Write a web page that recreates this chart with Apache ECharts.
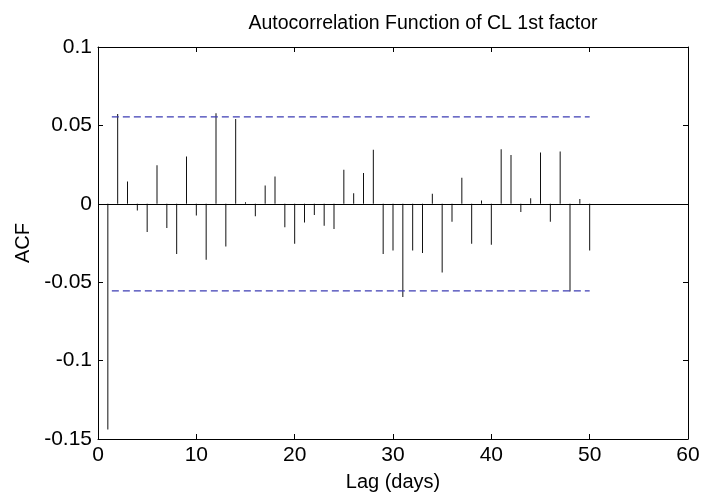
<!DOCTYPE html>
<html>
<head>
<meta charset="utf-8">
<script src="https://cdn.jsdelivr.net/npm/echarts@6/dist/echarts.min.js"></script>
<style>html,body{margin:0;padding:0;background:#fff}#c{width:709px;height:497px}</style>
</head>
<body>
<div id="c"></div>
<script>
var lags = [1,2,3,4,5,6,7,8,9,10,11,12,13,14,15,16,17,18,19,20,21,22,23,24,25,26,27,28,29,30,31,32,33,34,35,36,37,38,39,40,41,42,43,44,45,46,47,48,49,50];
var acf = [-0.144,0.0573,0.0142,-0.0043,-0.018,0.0246,-0.0155,-0.032,0.0301,-0.0074,
           -0.0357,0.0578,-0.0272,0.0541,0.001,-0.008,0.0117,0.0174,-0.0149,-0.0255,
           -0.012,-0.0072,-0.014,-0.016,0.0217,0.0068,0.0196,0.0344,-0.032,-0.0298,
           -0.0594,-0.0298,-0.0314,0.0064,-0.0438,-0.0115,0.0166,-0.0255,0.0021,-0.0261,
           0.0348,0.0312,-0.0053,0.0036,0.0327,-0.0115,0.0333,-0.0559,0.003,-0.0298];
var boundLags = [1, 50];
var bound = 0.0555;
var xTicks = [0,10,20,30,40,50,60];
var yTicks = [-0.15,-0.1,-0.05,0,0.05,0.1];

var chart = echarts.init(document.getElementById('c'));
var font = 'Liberation Sans, Arial, sans-serif';
var axisCommon = {
  axisLine:{show:true,onZero:false,lineStyle:{color:'#000',width:1}},
  axisTick:{show:true,inside:true,length:5,lineStyle:{color:'#000'}},
  splitLine:{show:false}
};
chart.setOption({
  animation:false,
  backgroundColor:'#fff',
  title:{text:'Autocorrelation Function of CL 1st factor',left:418,top:9,textAlign:'center',
    textStyle:{fontFamily:font,fontSize:19.5,fontWeight:'normal',color:'#000'}},
  grid:{left:98,right:21,top:47,bottom:56},
  xAxis:[
    Object.assign({type:'value',min:0,max:60,interval:10,position:'bottom',
      name:'Lag (days)',nameLocation:'middle',nameGap:33,
      nameTextStyle:{fontFamily:font,fontSize:20,color:'#000'},
      axisLabel:{fontFamily:font,fontSize:21,color:'#000',margin:6}},axisCommon),
    Object.assign({type:'value',min:0,max:60,interval:10,position:'top',
      axisLabel:{show:false}},axisCommon)
  ],
  yAxis:[
    Object.assign({type:'value',min:-0.15,max:0.1,interval:0.05,position:'left',
      name:'ACF',nameLocation:'middle',nameGap:51,
      nameTextStyle:{fontFamily:font,fontSize:20,color:'#000'},
      axisLabel:{fontFamily:font,fontSize:21,color:'#000',margin:6,
        formatter:function(v){var r=Math.round(v*100)/100;return String(r);}}},axisCommon),
    Object.assign({type:'value',min:-0.15,max:0.1,interval:0.05,position:'right',
      axisLabel:{show:false}},axisCommon)
  ],
  series:[
    {type:'bar',xAxisIndex:0,yAxisIndex:0,barWidth:1,
      data:lags.map(function(l,i){return [l,acf[i]];}),
      itemStyle:{color:'#111'},
      markLine:{silent:true,symbol:'none',label:{show:false},
        lineStyle:{color:'#000',width:1,type:'solid'},
        data:[[{coord:[0,0]},{coord:[60,0]}]]}},
    {type:'line',xAxisIndex:0,yAxisIndex:0,symbol:'none',
      data:boundLags.map(function(l){return [l,bound];}),
      lineStyle:{color:'#3c3cb4',width:1.3,type:[7,4],dashOffset:-4}},
    {type:'line',xAxisIndex:0,yAxisIndex:0,symbol:'none',
      data:boundLags.map(function(l){return [l,-bound];}),
      lineStyle:{color:'#3c3cb4',width:1.3,type:[7,4],dashOffset:-4}}
  ]
});
</script>
</body>
</html>
